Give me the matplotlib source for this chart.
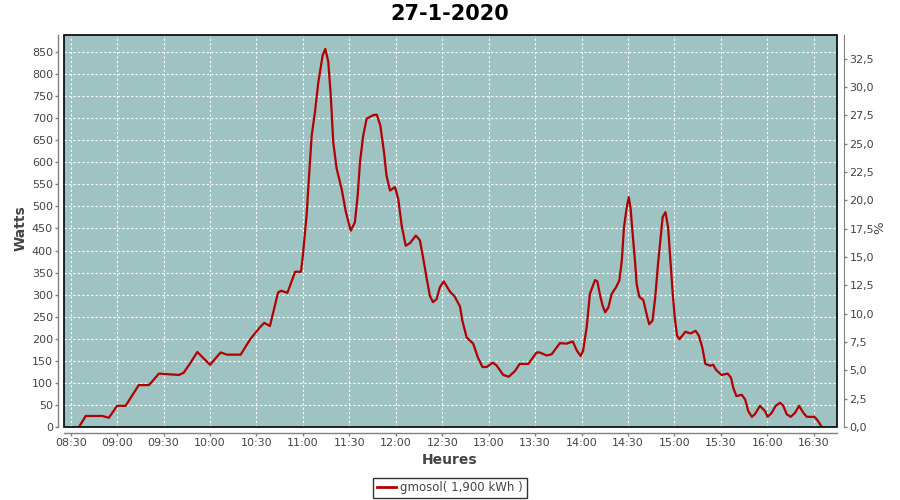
import matplotlib
matplotlib.use("Agg")
import matplotlib.pyplot as plt
import matplotlib.dates as mdates
from matplotlib.ticker import MultipleLocator, FuncFormatter
from matplotlib.patches import Rectangle
from matplotlib.lines import Line2D
import pandas as pd

title = "27-1-2020"
day = "2020-01-27"
series_name = "gmosol( 1,900 kWh )"

times = [
    "08:35:24", "08:39:42", "08:50:24", "08:54:42", "09:00:00", "09:05:30", "09:14:00", "09:20:36",
    "09:27:00", "09:40:00", "09:43:00", "09:47:30", "09:51:48", "10:00:00", "10:06:54", "10:11:00",
    "10:19:48", "10:26:00",
    "10:32:00", "10:35:00", "10:38:42", "10:44:00", "10:46:00", "10:50:00", "10:55:00", "10:58:48",
    "11:00:00", "11:02:24", "11:04:00", "11:05:42", "11:07:48", "11:10:00", "11:12:48", "11:14:30",
    "11:16:24", "11:18:00", "11:19:36", "11:21:48", "11:25:00", "11:27:48", "11:30:54", "11:33:36",
    "11:35:24", "11:36:54", "11:39:00", "11:41:12", "11:45:30", "11:47:42", "11:50:00", "11:52:24",
    "11:54:00", "11:56:18", "11:59:30", "12:01:36", "12:03:48", "12:06:24", "12:09:12", "12:13:00",
    "12:15:36", "12:17:48", "12:20:00", "12:22:00", "12:24:00", "12:26:24", "12:28:30", "12:31:00",
    "12:35:00", "12:38:00", "12:41:30", "12:43:00", "12:45:48", "12:50:00", "12:53:00", "12:56:00",
    "12:58:42", "13:02:36", "13:05:00", "13:09:24", "13:13:00", "13:17:00", "13:20:00", "13:25:36",
    "13:31:00", "13:33:00", "13:37:30", "13:40:42", "13:46:00", "13:50:24", "13:54:18", "13:57:00",
    "13:59:24", "14:01:00", "14:03:18", "14:05:24", "14:07:00", "14:08:42", "14:10:12", "14:12:00",
    "14:13:36", "14:15:18", "14:17:18", "14:19:30", "14:22:18", "14:24:24", "14:26:00", "14:27:24",
    "14:29:12", "14:30:30", "14:31:42", "14:33:00", "14:34:30", "14:35:36", "14:37:18", "14:39:54",
    "14:42:00", "14:43:42", "14:45:48", "14:47:36", "14:49:24", "14:50:54", "14:52:24", "14:54:12",
    "14:55:54", "14:57:24", "14:58:54", "15:00:12", "15:01:42", "15:03:12", "15:07:06", "15:10:24",
    "15:13:36", "15:15:48", "15:18:00", "15:20:00", "15:23:00", "15:25:00", "15:27:00", "15:30:30",
    "15:34:24", "15:36:30", "15:38:00", "15:40:00", "15:43:24", "15:45:36", "15:47:42", "15:50:00",
    "15:52:00", "15:55:12", "15:58:30", "16:00:12", "16:02:48", "16:05:24", "16:08:12", "16:10:18",
    "16:12:30", "16:15:06", "16:17:54", "16:20:30", "16:23:18", "16:25:30", "16:30:24", "16:32:00",
    "16:33:24", "16:35:12",
]
watts = [
    0, 25, 25, 21, 48, 48, 95, 95,
    121, 118, 123, 146, 170, 141, 169, 164,
    164, 199,
    225, 236, 229, 305, 309, 304, 352, 352,
    389, 480, 570, 661, 714, 782, 843, 857,
    828, 752, 646, 586, 540, 487, 445, 464,
    525, 601, 661, 699, 707, 708, 684, 623,
    570, 536, 544, 517, 457, 411, 417, 434,
    423, 381, 336, 298, 283, 290, 317, 330,
    307, 296, 273, 241, 203, 189, 158, 136,
    136, 146, 140, 118, 114, 127, 143, 143,
    169, 169, 162, 165, 190, 189, 194, 173,
    161, 173, 226, 302, 317, 333, 330, 298,
    275, 260, 271, 302, 317, 332, 377, 453,
    498, 521, 495, 438, 377, 324, 295, 288,
    256, 233, 241, 294, 370, 423, 476, 487,
    453, 377, 302, 248, 207, 199, 216, 212,
    218, 207, 180, 143, 139, 141, 129, 118,
    121, 112, 89, 70, 73, 63, 36, 23,
    29, 48, 36, 23, 32, 48, 55, 48,
    29, 23, 32, 48, 32, 23, 23, 17,
    10, 0,
]

x_start = "08:25:42"
x_end = "16:45:00"
watts_max = 888.6
pct_max = 34.6

t = pd.to_datetime([f"{day} {s}" for s in times])

W, H = 900, 500
fig = plt.figure(figsize=(9, 5), dpi=100)
fig.patch.set_facecolor("white")
L, R, T, B = 64, 837, 35, 427
ax = fig.add_axes([L / W, 1 - B / H, (R - L) / W, (B - T) / H])
ax.set_facecolor("#9fc3c3")

ax.plot(t, watts, color="#b00000", lw=1.6, zorder=3, solid_joinstyle="round")

ax.set_xlim(pd.Timestamp(f"{day} {x_start}"), pd.Timestamp(f"{day} {x_end}"))
ax.set_ylim(0, watts_max)
ax.xaxis.set_major_locator(mdates.MinuteLocator(byminute=[0, 30]))
ax.xaxis.set_major_formatter(mdates.DateFormatter("%H:%M"))
ax.yaxis.set_major_locator(MultipleLocator(50))

ax.grid(True, color="white", ls=(0, (2, 2)), lw=0.8)
ax.set_axisbelow(True)

gray = "#808080"
txt = "#444444"
for s in ["top", "right"]:
    ax.spines[s].set_visible(False)
for s in ["left", "bottom"]:
    ax.spines[s].set_position(("outward", 4))
    ax.spines[s].set_color(gray)
    ax.spines[s].set_linewidth(1)
ax.tick_params(axis="both", colors=gray, labelcolor=txt, length=2, width=1,
               labelsize=8, pad=2)

ax2 = ax.twinx()
ax2.set_ylim(0, pct_max)
ax2.yaxis.set_major_locator(MultipleLocator(2.5))
ax2.yaxis.set_major_formatter(FuncFormatter(lambda v, p: f"{v:.1f}".replace(".", ",")))
for s in ["top", "left", "bottom"]:
    ax2.spines[s].set_visible(False)
ax2.spines["right"].set_position(("outward", 5))
ax2.spines["right"].set_color(gray)
ax2.tick_params(axis="y", colors=gray, labelcolor=txt, length=2, width=1,
                labelsize=8, pad=2)

ax.add_patch(Rectangle((0, 0), 1, 1, transform=ax.transAxes, fill=False,
                       ec="black", lw=1.2, clip_on=False, zorder=5))

fig.text(450 / W, 1 - 14 / H, title, ha="center", va="center",
         fontsize=15, fontweight="bold", color="black")
fig.text(21 / W, 1 - 228 / H, "Watts", rotation=90, ha="center", va="center",
         fontsize=10, fontweight="bold", color=txt)
fig.text(450 / W, 1 - 460 / H, "Heures", ha="center", va="center",
         fontsize=10, fontweight="bold", color=txt)
fig.text(880 / W, 1 - 228 / H, "%", rotation=90, ha="center", va="center",
         fontsize=9.5, color=txt)

handle = Line2D([], [], color="#b00000", lw=2)
leg = fig.legend([handle], [series_name], loc="center", bbox_to_anchor=(450 / W, 1 - 488 / H),
                 frameon=True, fancybox=False, edgecolor="black", fontsize=8.5,
                 handlelength=1.6, handletextpad=0.4, borderpad=0.3, labelcolor=txt)
leg.get_frame().set_linewidth(1)

fig.savefig("out.png", dpi=100)
